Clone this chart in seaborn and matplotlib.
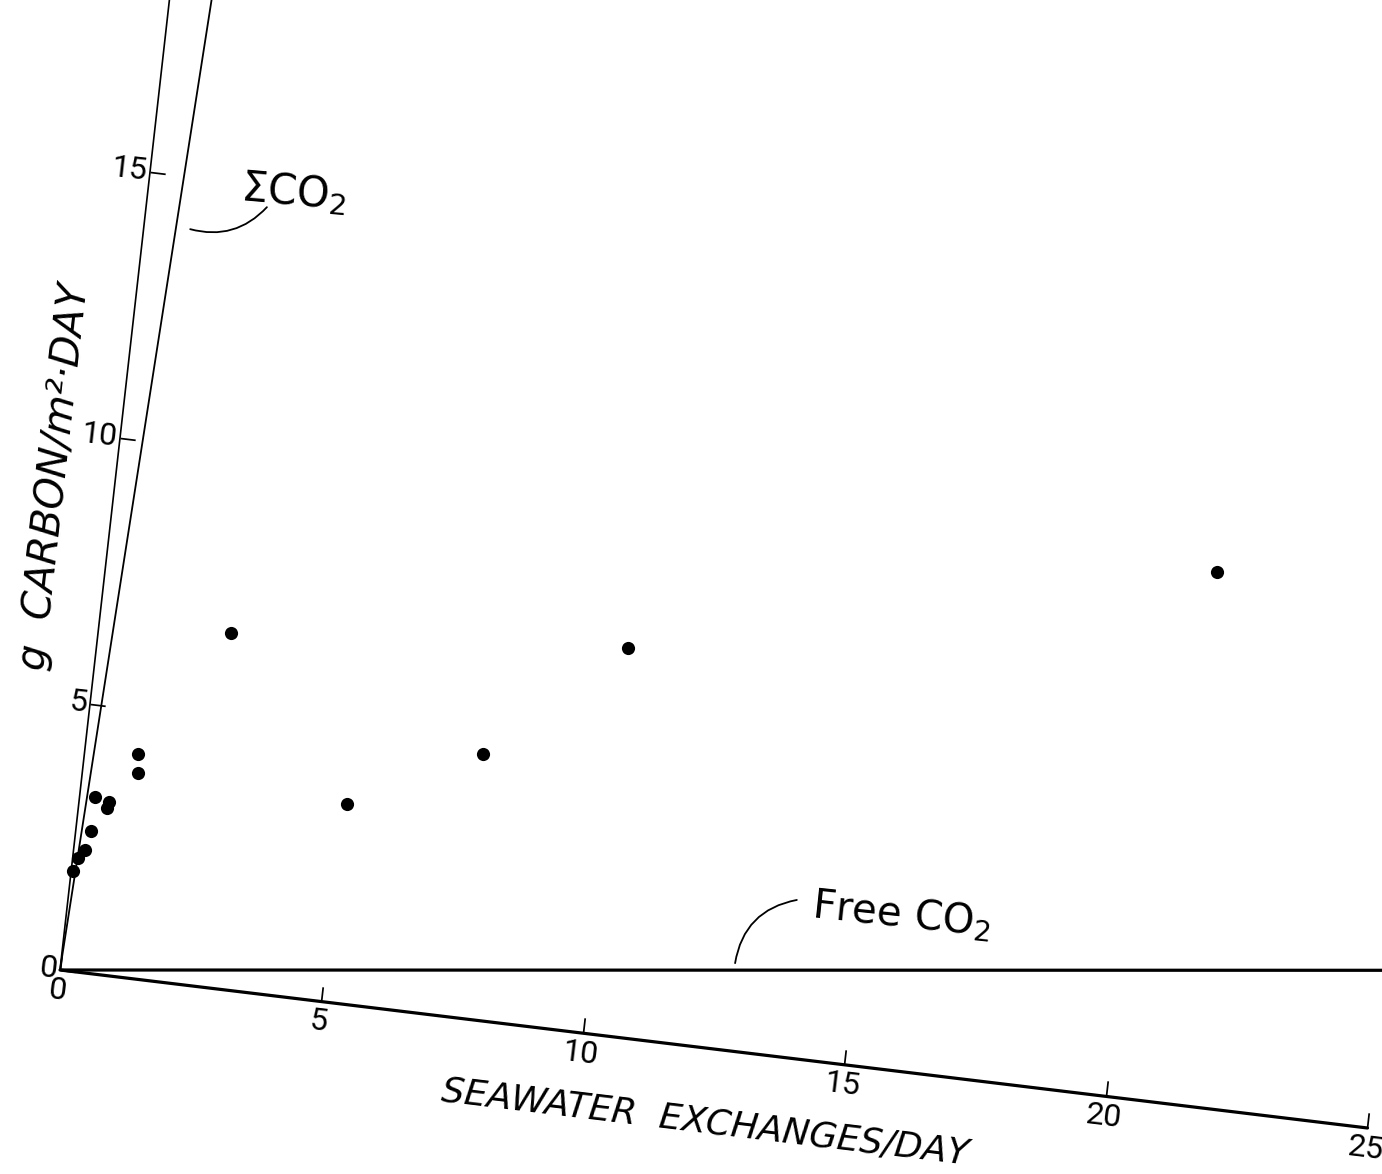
import numpy as np
import pandas as pd
import matplotlib
matplotlib.use("Agg")
import matplotlib.pyplot as plt
import seaborn as sns
from matplotlib.transforms import Affine2D
import mpl_toolkits.axisartist.floating_axes as floating_axes
from mpl_toolkits.axisartist.grid_finder import FixedLocator, DictFormatter

# ---- data read from the (rotated, scanned) figure ----
exchanges = [0.04, 0.10, 0.22, 0.29, 0.29, 0.54, 0.57, 1.01, 1.05, 2.51, 5.06, 7.52, 10.03, 20.98]
carbon = [1.87, 2.12, 2.28, 2.65, 3.29, 3.11, 3.23, 4.18, 3.83, 6.63, 3.72, 4.95, 7.24, 9.97]
sigma_x = [0.0, 0.82]          # "Sigma CO2" line
sigma_y = [0.0, 18.9]
free_x = [0.0, 25.3]           # "Free CO2" line
free_y = [0.0, 3.0]
x_ticks = [0, 5, 10, 15, 20, 25]
x_tick_labels = ["0", "5", "10", "15", "20", "25"]
y_ticks = [0, 5, 10, 15]
y_tick_labels = ["0", "5", "10", "15"]
x_label = "SEAWATER  EXCHANGES/DAY"
y_label = "g  CARBON/m²·DAY"

sns.set_theme(style="white")
plt.rcParams["font.family"] = ["DejaVu Sans"]
for key in ("text.color", "axes.edgecolor", "axes.labelcolor",
            "xtick.color", "ytick.color"):
    plt.rcParams[key] = "black"

W, H = 1382, 1174
fig = plt.figure(figsize=(W / 100, H / 100), dpi=100)

# the scanned page is rotated by about 7 degrees: data -> pixel (y up)
tr = Affine2D.from_values(52.3, -6.32, 6.0, 53.2, 60.0, 204.0)
grid_helper = floating_axes.GridHelperCurveLinear(
    tr, extremes=(0, 25, 0, 18.3),
    grid_locator1=FixedLocator(x_ticks),
    grid_locator2=FixedLocator(y_ticks),
    tick_formatter1=DictFormatter(dict(zip(x_ticks, x_tick_labels))),
    tick_formatter2=DictFormatter(dict(zip(y_ticks, y_tick_labels))),
)
ax = fig.add_axes([0, 0, 1, 1], axes_class=floating_axes.FloatingAxes,
                  grid_helper=grid_helper)
aux = ax.get_aux_axes(tr)
aux.patch = ax.patch

df = pd.DataFrame({"exchanges": exchanges, "carbon": carbon})
sns.lineplot(x=sigma_x, y=sigma_y, ax=aux, color="black", lw=1.3, sort=False,
             clip_on=False)
sns.lineplot(x=free_x, y=free_y, ax=aux, color="black", lw=2.3, sort=False)
sns.scatterplot(data=df, x="exchanges", y="carbon", ax=aux, color="black",
                s=90, edgecolor="black", linewidth=0, zorder=5, clip_on=False)

ax.set_xlim(0, W)
ax.set_ylim(0, H)

for side in ("top", "right"):
    ax.axis[side].set_visible(False)
b = ax.axis["bottom"]
l = ax.axis["left"]
b.line.set_linewidth(2.3)
b.line.set_color("black")
l.line.set_linewidth(1.2)
l.line.set_color("black")
for a in (b, l):
    a.major_ticks.set_tick_out(False)
    a.major_ticks.set_ticksize(11)
    a.major_ticks.set_linewidth(1.2)
    a.major_ticks.set_color("black")
    a.major_ticklabels.set_fontsize(23)
    a.major_ticklabels.set_fontfamily(["Roboto", "DejaVu Sans"])
    a.major_ticklabels.set_fontweight("normal")
    a.major_ticklabels.set_color("black")
b.major_ticklabels.set_pad(5)
l.major_ticklabels.set_pad(2)

b.label.set_text(x_label)
b.label.set_fontsize(26)
b.label.set_fontstyle("italic")
b.label.set_color("black")
b.label.set_pad(20)
b.label.set_visible(True)
l.label.set_text(y_label)
l.label.set_fontsize(29)
l.label.set_fontstyle("italic")
l.label.set_color("black")
l.label.set_pad(2)
l.label.set_visible(True)

# annotations
aux.annotate("", xy=(0.88, 14.03), xytext=(2.28, 14.61),
             arrowprops=dict(arrowstyle="-", lw=1.3, color="black",
                             connectionstyle="arc3,rad=-0.3",
                             shrinkA=0, shrinkB=0))
aux.text(2.75, 14.95, "ΣCO$_2$", fontsize=30, rotation=-5,
         ha="center", va="center", color="black")
aux.annotate("", xy=(12.72, 1.64), xytext=(13.75, 2.95),
             arrowprops=dict(arrowstyle="-", lw=1.3, color="black",
                             connectionstyle="arc3,rad=0.35",
                             shrinkA=0, shrinkB=0))
aux.text(15.75, 2.9, "Free CO$_2$", fontsize=29, rotation=-6,
         ha="center", va="center", color="black")

fig.savefig("out.png", dpi=100, facecolor="white")
